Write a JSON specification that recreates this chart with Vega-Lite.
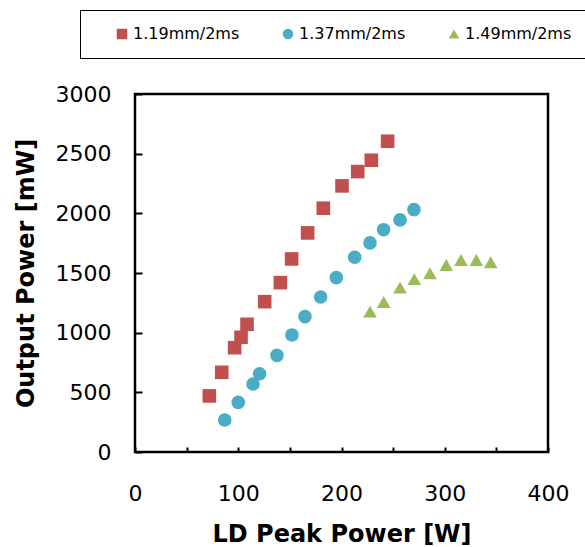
{
  "$schema": "https://vega.github.io/schema/vega-lite/v6.json",
  "width": 413,
  "height": 358,
  "autosize": "none",
  "padding": {"left": 135, "top": 94, "right": 37, "bottom": 95},
  "background": "white",
  "config": {
    "font": "DejaVu Sans",
    "view": {"stroke": "black", "strokeWidth": 2.5},
    "axis": {
      "domain": false,
      "grid": false,
      "tickColor": "black",
      "tickWidth": 2,
      "labelColor": "black",
      "labelFont": "DejaVu Sans",
      "labelFontSize": 22,
      "labelFlush": false,
      "format": "d",
      "titleFont": "DejaVu Sans",
      "titleFontSize": 24,
      "titleFontWeight": "bold",
      "titleColor": "black"
    }
  },
  "data": {
    "values": [
      {"series": "1.19mm/2ms", "ld": 72, "power": 470},
      {"series": "1.19mm/2ms", "ld": 84, "power": 668},
      {"series": "1.19mm/2ms", "ld": 96.5, "power": 874},
      {"series": "1.19mm/2ms", "ld": 102.7, "power": 961},
      {"series": "1.19mm/2ms", "ld": 108.5, "power": 1070},
      {"series": "1.19mm/2ms", "ld": 125.6, "power": 1260},
      {"series": "1.19mm/2ms", "ld": 140.8, "power": 1419},
      {"series": "1.19mm/2ms", "ld": 151.7, "power": 1618},
      {"series": "1.19mm/2ms", "ld": 167.2, "power": 1836},
      {"series": "1.19mm/2ms", "ld": 182.4, "power": 2043},
      {"series": "1.19mm/2ms", "ld": 200.5, "power": 2230},
      {"series": "1.19mm/2ms", "ld": 215.7, "power": 2350},
      {"series": "1.19mm/2ms", "ld": 228.9, "power": 2445},
      {"series": "1.19mm/2ms", "ld": 244.7, "power": 2604},
      {"series": "1.37mm/2ms", "ld": 86.9, "power": 268},
      {"series": "1.37mm/2ms", "ld": 100, "power": 416},
      {"series": "1.37mm/2ms", "ld": 114.3, "power": 570},
      {"series": "1.37mm/2ms", "ld": 120.7, "power": 656},
      {"series": "1.37mm/2ms", "ld": 137.5, "power": 810},
      {"series": "1.37mm/2ms", "ld": 152, "power": 981},
      {"series": "1.37mm/2ms", "ld": 164.6, "power": 1134},
      {"series": "1.37mm/2ms", "ld": 179.8, "power": 1299},
      {"series": "1.37mm/2ms", "ld": 195, "power": 1461},
      {"series": "1.37mm/2ms", "ld": 212.8, "power": 1632},
      {"series": "1.37mm/2ms", "ld": 227.6, "power": 1752},
      {"series": "1.37mm/2ms", "ld": 240.8, "power": 1863},
      {"series": "1.37mm/2ms", "ld": 256.7, "power": 1945},
      {"series": "1.37mm/2ms", "ld": 270.2, "power": 2031},
      {"series": "1.49mm/2ms", "ld": 227.6, "power": 1176},
      {"series": "1.49mm/2ms", "ld": 240.9, "power": 1257},
      {"series": "1.49mm/2ms", "ld": 256.7, "power": 1377},
      {"series": "1.49mm/2ms", "ld": 270.5, "power": 1448},
      {"series": "1.49mm/2ms", "ld": 285.7, "power": 1498},
      {"series": "1.49mm/2ms", "ld": 301.5, "power": 1567},
      {"series": "1.49mm/2ms", "ld": 315.7, "power": 1609},
      {"series": "1.49mm/2ms", "ld": 330.6, "power": 1609},
      {"series": "1.49mm/2ms", "ld": 344.5, "power": 1590}
    ]
  },
  "mark": {"type": "point", "filled": true, "opacity": 1, "size": 185},
  "encoding": {
    "x": {
      "field": "ld",
      "type": "quantitative",
      "title": "LD Peak Power [W]",
      "scale": {"domain": [0, 400], "nice": false, "zero": false},
      "axis": {
        "values": [0, 50, 100, 150, 200, 250, 300, 350, 400],
        "labelExpr": "datum.value % 100 == 0 ? datum.label : ''",
        "tickSize": -5,
        "labelPadding": 36,
        "titlePadding": 18
      }
    },
    "y": {
      "field": "power",
      "type": "quantitative",
      "title": "Output Power [mW]",
      "scale": {"domain": [0, 3000], "nice": false},
      "axis": {
        "values": [0, 500, 1000, 1500, 2000, 2500, 3000],
        "tickSize": -7,
        "labelPadding": 31,
        "titlePadding": 17
      }
    },
    "color": {
      "field": "series",
      "type": "nominal",
      "scale": {
        "domain": ["1.19mm/2ms", "1.37mm/2ms", "1.49mm/2ms"],
        "range": ["#C0504D", "#4BACC6", "#9BBB59"]
      },
      "legend": {
        "orient": "none",
        "direction": "horizontal",
        "legendX": -55,
        "legendY": -84,
        "title": "\u00a0",
        "titleOrient": "left",
        "titlePadding": 18,
        "titleFontSize": 15,
        "padding": 16,
        "strokeColor": "black",
        "fillColor": "white",
        "labelFont": "DejaVu Sans",
        "labelFontSize": 16,
        "labelColor": "black",
        "labelOffset": 3,
        "symbolSize": 110,
        "symbolStrokeWidth": 0,
        "columnPadding": 40
      }
    },
    "shape": {
      "field": "series",
      "type": "nominal",
      "scale": {
        "domain": ["1.19mm/2ms", "1.37mm/2ms", "1.49mm/2ms"],
        "range": ["square", "circle", "triangle-up"]
      },
      "legend": {
        "orient": "none",
        "direction": "horizontal",
        "legendX": -55,
        "legendY": -84,
        "title": "\u00a0",
        "titleOrient": "left",
        "titlePadding": 18,
        "titleFontSize": 15,
        "padding": 16,
        "strokeColor": "black",
        "fillColor": "white",
        "labelFont": "DejaVu Sans",
        "labelFontSize": 16,
        "labelColor": "black",
        "labelOffset": 3,
        "symbolSize": 110,
        "symbolStrokeWidth": 0,
        "columnPadding": 40
      }
    }
  }
}
